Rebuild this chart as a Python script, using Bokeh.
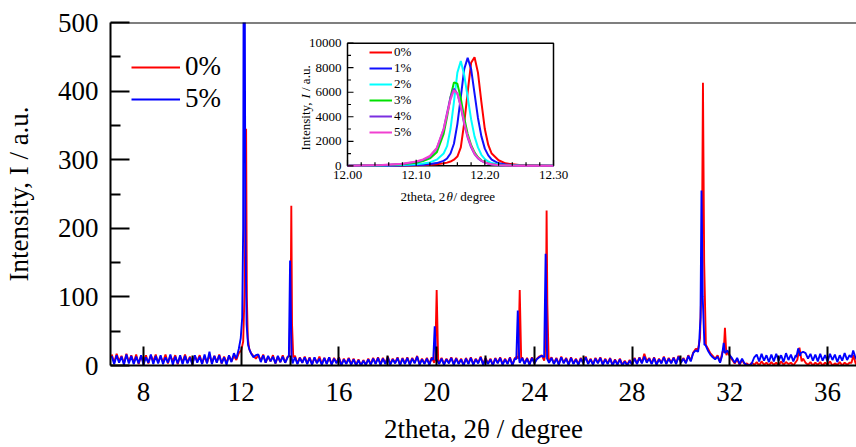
import numpy as np
from math import pi
from bokeh.plotting import figure
from bokeh.models import (Range1d, FixedTicker, Span, Label, Legend, LegendItem)
from bokeh.core.properties import value
from bokeh.embed import file_html
from bokeh.resources import INLINE

FONT = "Times New Roman"

# ---------------- main pattern data ----------------
series_labels = ["0%", "5%"]
series_colors = ["#ff0000", "#0000ff"]
x_title = "2theta, 2\u03b8 / degree"
y_title = "Intensity, I / a.u."

x_ticks = [8, 12, 16, 20, 24, 28, 32, 36]
x_minor = [10, 14, 18, 22, 26, 30, 34]
y_ticks = [0, 100, 200, 300, 400, 500]
y_minor = [50, 150, 250, 350, 450]

scan_start = 6.7   # degree
scan_step = 0.1    # degree

base_0 = [
    16, 4, 17, 6, 14, 3, 17, 5, 15, 4,
    16, 2, 14, 5, 15, 3, 15, 6, 16, 4,
    13, 5, 16, 3, 14, 6, 15, 2, 13, 5,
    16, 4, 13, 3, 14, 6, 15, 3, 13, 4,
    15, 4, 14, 5, 16, 3, 13, 4, 14, 6,
    14, 8, 18, 22, 26, 30, 35, 18, 14, 10,
    15, 7, 16, 4, 13, 6, 15, 3, 13, 5,
    15, 4, 13, 16, 6, 14, 3, 12, 4, 13,
    3, 12, 2, 11, 4, 13, 2, 11, 3, 12,
    2, 11, 4, 12, 1, 10, 3, 11, 2, 10,
    1, 9, 0, 8, 1, 10, 2, 11, 3, 12,
    2, 11, 3, 13, 2, 10, 4, 12, 1, 11,
    3, 12, 2, 11, 4, 14, 2, 10, 3, 11,
    2, 12, 4, 10, 3, 11, 2, 10, 4, 12,
    2, 11, 3, 10, 1, 11, 3, 12, 2, 10,
    4, 13, 2, 11, 3, 10, 1, 11, 4, 12,
    2, 10, 3, 12, 1, 11, 13, 5, 12, 3,
    11, 2, 12, 4, 10, 13, 15, 7, 13, 5,
    12, 3, 11, 2, 13, 4, 11, 2, 12, 3,
    10, 2, 11, 4, 13, 3, 10, 2, 11, 4,
    12, 2, 10, 3, 11, 1, 9, 2, 10, 1,
    7, 1, 8, 2, 11, 3, 12, 4, 17, 6,
    11, 3, 12, 2, 10, 4, 13, 3, 11, 4,
    12, 3, 14, 5, 11, 4, 15, 7, 19, 24,
    24, 30, 35, 34, 25, 18, 14, 10, 15, 5,
    20, 25, 20, 14, 8, 3, 9, 1, 8, 2,
    3, 0, 4, 1, 5, 0, 6, 1, 4, 0,
    5, 1, 4, 0, 6, 1, 5, 2, 4, 0,
    5, 8, 14, 10, 4, 1, 5, 0, 4, 1,
    5, 0, 4, 1, 6, 0, 3, 1, 5, 0,
    4, 1, 4, 1, 5, 0,
]

base_5 = [
    14, 2, 15, 4, 13, 1, 16, 3, 14, 2,
    13, 3, 15, 1, 12, 4, 16, 2, 14, 3,
    15, 2, 12, 4, 16, 1, 13, 3, 15, 2,
    14, 3, 12, 1, 15, 4, 13, 2, 16, 3,
    20, 2, 14, 4, 15, 3, 12, 1, 15, 5,
    18, 10, 24, 28, 40, 50, 60, 18, 12, 15,
    16, 5, 15, 4, 14, 6, 13, 3, 14, 5,
    13, 4, 12, 14, 3, 12, 2, 11, 4, 12,
    2, 11, 1, 12, 3, 10, 1, 11, 2, 12,
    1, 10, 3, 11, 0, 9, 2, 10, 1, 9,
    0, 8, 0, 7, 1, 9, 1, 10, 2, 11,
    1, 10, 2, 12, 1, 9, 3, 11, 0, 10,
    2, 11, 1, 10, 3, 13, 1, 9, 2, 10,
    1, 11, 3, 9, 2, 10, 1, 9, 3, 11,
    1, 10, 2, 9, 0, 10, 2, 11, 1, 9,
    3, 12, 1, 10, 2, 9, 0, 10, 3, 11,
    1, 9, 2, 11, 0, 10, 12, 4, 11, 2,
    10, 1, 11, 3, 9, 12, 14, 6, 12, 4,
    11, 2, 10, 1, 12, 3, 10, 1, 11, 2,
    9, 1, 10, 3, 12, 2, 9, 1, 10, 3,
    11, 1, 9, 2, 10, 0, 8, 1, 9, 0,
    6, 0, 7, 1, 10, 2, 11, 3, 13, 4,
    10, 2, 11, 1, 9, 3, 12, 2, 10, 3,
    11, 2, 13, 4, 10, 3, 14, 6, 18, 22,
    20, 25, 30, 30, 22, 16, 12, 9, 13, 4,
    14, 18, 22, 15, 10, 4, 11, 2, 10, 3,
    1, 0, 3, 12, 16, 6, 17, 7, 15, 5,
    16, 6, 17, 7, 15, 5, 18, 8, 16, 6,
    15, 8, 18, 20, 18, 10, 17, 7, 16, 6,
    17, 7, 15, 6, 17, 8, 16, 5, 15, 7,
    18, 8, 15, 7, 16, 8,
]

peaks_0 = [
    [(12.08, 35), (12.14, 110), (12.18, 250), (12.20, 345), (12.23, 100), (12.27, 40), (12.33, 24)],
    [(13.97, 14), (14.03, 120), (14.05, 233), (14.08, 60), (14.13, 12)],
    [(19.94, 9), (20.00, 110), (20.06, 9)],
    [(23.34, 10), (23.40, 110), (23.46, 9)],
    [(24.43, 13), (24.48, 120), (24.50, 226), (24.53, 90), (24.58, 12)],
    [(30.78, 40), (30.85, 130), (30.90, 412), (30.95, 150), (31.02, 30)],
    [(31.75, 20), (31.80, 55), (31.86, 15)],
    [(34.76, 8), (34.85, 26), (34.94, 6)],
    [(36.98, 4), (37.06, 15), (37.14, 4)],
]

peaks_5 = [
    [(11.98, 40), (12.04, 70), (12.08, 200), (12.10, 620), (12.14, 620), (12.17, 200), (12.22, 60), (12.28, 30), (12.35, 22)],
    [(13.95, 14), (14.00, 153), (14.06, 13)],
    [(19.86, 8), (19.92, 57), (19.98, 7)],
    [(23.26, 9), (23.32, 80), (23.38, 8)],
    [(24.40, 12), (24.46, 163), (24.52, 10)],
    [(30.74, 30), (30.80, 70), (30.84, 255), (30.89, 100), (30.96, 30)],
    [(31.68, 14), (31.75, 33), (31.80, 18)],
    [(34.72, 12), (34.80, 25), (34.88, 14)],
    [(36.98, 12), (37.05, 22), (37.12, 14)],
]

# ---------------- inset data (peak near 12.2 degree) ----------------
inset_labels = ["0%", "1%", "2%", "3%", "4%", "5%"]
inset_colors = ["#ff0000", "#1010ff", "#00ffff", "#00e000", "#7b2fe0", "#f040d0"]
inset_x = [12.00, 12.05, 12.08, 12.10, 12.11, 12.12, 12.13, 12.14, 12.145, 12.15,
           12.155, 12.16, 12.165, 12.17, 12.175, 12.18, 12.185, 12.19, 12.195, 12.20,
           12.205, 12.21, 12.22, 12.23, 12.25, 12.30]
inset_0 = [0, 0, 20, 40, 60, 90, 130, 200, 260, 350,
           500, 750, 1500, 3500, 6000, 8400, 8850, 7600, 5200, 3000,
           1700, 1000, 450, 200, 60, 0]
inset_1 = [0, 10, 30, 60, 90, 140, 220, 400, 600, 1000,
           1800, 3400, 5600, 7900, 8800, 7900, 5900, 3900, 2400, 1400,
           850, 500, 200, 100, 30, 0]
inset_2 = [0, 20, 60, 120, 180, 280, 500, 1000, 1600, 3000,
           5200, 7600, 8550, 7400, 5600, 3800, 2400, 1500, 900, 550,
           350, 220, 100, 50, 20, 0]
inset_3 = [0, 40, 120, 250, 380, 600, 1100, 2600, 4000, 5600,
           6800, 6700, 5500, 3900, 2600, 1700, 1100, 700, 450, 300,
           200, 130, 60, 30, 10, 0]
inset_4 = [0, 50, 150, 320, 480, 750, 1400, 3000, 4300, 5600,
           6300, 5900, 4800, 3400, 2300, 1500, 950, 600, 400, 260,
           170, 110, 50, 25, 10, 0]
inset_5 = [0, 60, 170, 350, 520, 800, 1450, 3000, 4200, 5400,
           6150, 5900, 4900, 3500, 2400, 1600, 1000, 650, 420, 280,
           180, 120, 55, 30, 10, 0]
inset_series = [inset_0, inset_1, inset_2, inset_3, inset_4, inset_5]
inset_x_ticks = [12.0, 12.1, 12.2, 12.3]
inset_x_minor = [12.02, 12.04, 12.06, 12.08, 12.12, 12.14, 12.16, 12.18,
                 12.22, 12.24, 12.26, 12.28]
inset_y_ticks = [0, 2000, 4000, 6000, 8000, 10000]
inset_y_minor = [1000, 3000, 5000, 7000, 9000]
inset_x_lim = (12.0, 12.3)
inset_y_lim = (0, 10000)

# ---------------- layout constants (canvas pixels) ----------------
W, H = 856, 447
FR_L, FR_R, FR_T, FR_B = 110, 856, 22, 365      # main frame
IN_L, IN_R, IN_T, IN_B = 347, 553, 42.7, 165.3  # inset box
X_START, X_END = 6.649, 37.185


def assemble(base, peaks):
    x = np.round(scan_start + scan_step * np.arange(len(base)), 2)
    y = np.asarray(base, dtype=float)
    keep = np.ones(len(x), dtype=bool)
    px, py = [], []
    for g in peaks:
        gx = [pt[0] for pt in g]
        gy = [pt[1] for pt in g]
        keep &= ~((x >= min(gx)) & (x <= max(gx)))
        px += gx
        py += gy
    ax = np.concatenate([x[keep], np.array(px)])
    ay = np.concatenate([y[keep], np.array(py, dtype=float)])
    order = np.argsort(ax, kind="stable")
    return ax[order], ay[order]


p = figure(width=W, height=H, output_backend="svg", toolbar_location=None,
           x_range=Range1d(X_START, X_END), y_range=Range1d(0, 500),
           min_border_left=FR_L, min_border_right=W - FR_R, min_border_top=FR_T,
           min_border_bottom=H - FR_B)
p.outline_line_color = None
p.grid.visible = False
p.background_fill_color = "white"
p.border_fill_color = "white"

# extra ranges that place the inset box inside the frame
sx = (IN_R - IN_L) / (inset_x_lim[1] - inset_x_lim[0])
sy = (IN_B - IN_T) / (inset_y_lim[1] - inset_y_lim[0])
p.extra_x_ranges = {"ix": Range1d(inset_x_lim[0] - (IN_L - FR_L) / sx,
                                  inset_x_lim[1] + (FR_R - IN_R) / sx)}
p.extra_y_ranges = {"iy": Range1d(inset_y_lim[0] - (FR_B - IN_B) / sy,
                                  inset_y_lim[1] + (IN_T - FR_T) / sy)}

main_renderers = []
for base, peaks, col in zip([base_0, base_5], [peaks_0, peaks_5], series_colors):
    xx, yy = assemble(base, peaks)
    main_renderers.append(p.line(xx, yy, line_color=col, line_width=1.9))

p.add_layout(Span(location=500, dimension="width", line_color="black", line_width=2))

for ax in (p.xaxis[0], p.yaxis[0]):
    ax.axis_line_width = 2
    ax.axis_line_color = "black"
    ax.major_tick_in = 19
    ax.major_tick_out = 0
    ax.minor_tick_in = 10
    ax.minor_tick_out = 0
    ax.major_tick_line_width = 2
    ax.minor_tick_line_width = 2
    ax.major_tick_line_color = "black"
    ax.minor_tick_line_color = "black"
    ax.major_label_text_font = FONT
    ax.major_label_text_font_size = "27px"
    ax.major_label_text_color = "black"
    ax.axis_label_text_font = FONT
    ax.axis_label_text_font_size = "27px"
    ax.axis_label_text_font_style = "normal"
    ax.axis_label_text_color = "black"
p.xaxis.ticker = FixedTicker(ticks=x_ticks, minor_ticks=x_minor)
p.yaxis.ticker = FixedTicker(ticks=y_ticks, minor_ticks=y_minor)
p.xaxis.major_label_standoff = 17
p.yaxis.major_label_standoff = 12
p.xaxis.axis_label = x_title
p.yaxis.axis_label = y_title
p.xaxis.axis_label_standoff = 10
p.yaxis.axis_label_standoff = 21

leg = Legend(items=[LegendItem(label=l, renderers=[r])
                    for l, r in zip(series_labels, main_renderers)],
             location=(21, 251))
leg.label_text_font = FONT
leg.label_text_font_size = "27px"
leg.label_text_color = "black"
leg.glyph_width = 49
leg.glyph_height = 30
leg.label_height = 30
leg.label_standoff = 5
leg.spacing = 1
leg.padding = 0
leg.margin = 0
leg.border_line_color = None
leg.background_fill_alpha = 0
p.add_layout(leg)

# ---------------- inset drawn with its own ranges ----------------
IR = dict(x_range_name="ix", y_range_name="iy")
p.quad(left=[inset_x_lim[0]], right=[inset_x_lim[1]], bottom=[inset_y_lim[0]],
       top=[inset_y_lim[1]], fill_color="white", line_color="black", line_width=1.5, **IR)
inset_renderers = []
for ys, col in zip(inset_series, inset_colors):
    inset_renderers.append(p.line(inset_x, ys, line_color=col, line_width=2, **IR))

# inset ticks (inward)
n = len(inset_y_ticks)
p.ray(x=[inset_x_lim[0]] * n, y=inset_y_ticks, length=6, length_units="screen",
      angle=0, line_color="black", line_width=1.2, **IR)
n = len(inset_y_minor)
p.ray(x=[inset_x_lim[0]] * n, y=inset_y_minor, length=3.5, length_units="screen",
      angle=0, line_color="black", line_width=1.2, **IR)
n = len(inset_x_ticks)
p.ray(x=inset_x_ticks, y=[inset_y_lim[0]] * n, length=6, length_units="screen",
      angle=pi / 2, line_color="black", line_width=1.2, **IR)
n = len(inset_x_minor)
p.ray(x=inset_x_minor, y=[inset_y_lim[0]] * n, length=3.5, length_units="screen",
      angle=pi / 2, line_color="black", line_width=1.2, **IR)

# inset tick labels
p.text(x=[inset_x_lim[0]] * len(inset_y_ticks), y=inset_y_ticks,
       text=["%d" % t for t in inset_y_ticks], x_offset=-6,
       text_align="right", text_baseline="middle", text_font=value(FONT),
       text_font_size=value("13px"), text_color="black", **IR)
p.text(x=inset_x_ticks, y=[inset_y_lim[0]] * len(inset_x_ticks),
       text=["%.2f" % t for t in inset_x_ticks], y_offset=5,
       text_align="center", text_baseline="top", text_font=value(FONT),
       text_font_size=value("13px"), text_color="black", **IR)

ileg = Legend(items=[LegendItem(label=l, renderers=[r])
                     for l, r in zip(inset_labels, inset_renderers)],
              location=(IN_L + 22 - FR_L, FR_B - 139.8))
ileg.label_text_font = FONT
ileg.label_text_font_size = "13px"
ileg.label_text_color = "black"
ileg.glyph_width = 23
ileg.glyph_height = 14
ileg.label_height = 14
ileg.label_standoff = 2
ileg.spacing = 0
ileg.padding = 0
ileg.margin = 0
ileg.border_line_color = None
ileg.background_fill_alpha = 0
p.add_layout(ileg)


def lab(text, x, y, size, angle=0.0, italic=False, font=FONT):
    # x, y: canvas pixels of the text start on its baseline
    p.add_layout(Label(x=x - FR_L, y=FR_B - y, x_units="screen", y_units="screen",
                       text=text, angle=angle, text_font=font, text_font_size=size,
                       text_font_style="italic" if italic else "normal",
                       text_color="black", text_baseline="alphabetic",
                       text_align="left"))


# inset axis titles
lab("2theta, 2", 400, 196, "13px")
lab("\u03b8", 446, 196, "13px", italic=True)
lab("/ degree", 453, 196, "13px")
lab("Intensity,", 305, 150, "13px", angle=pi / 2)
lab("I", 305, 98, "13px", angle=pi / 2, italic=True)
lab("/ a.u.", 305, 90.5, "13px", angle=pi / 2)

open("out.html", "w").write(file_html(p, INLINE))
